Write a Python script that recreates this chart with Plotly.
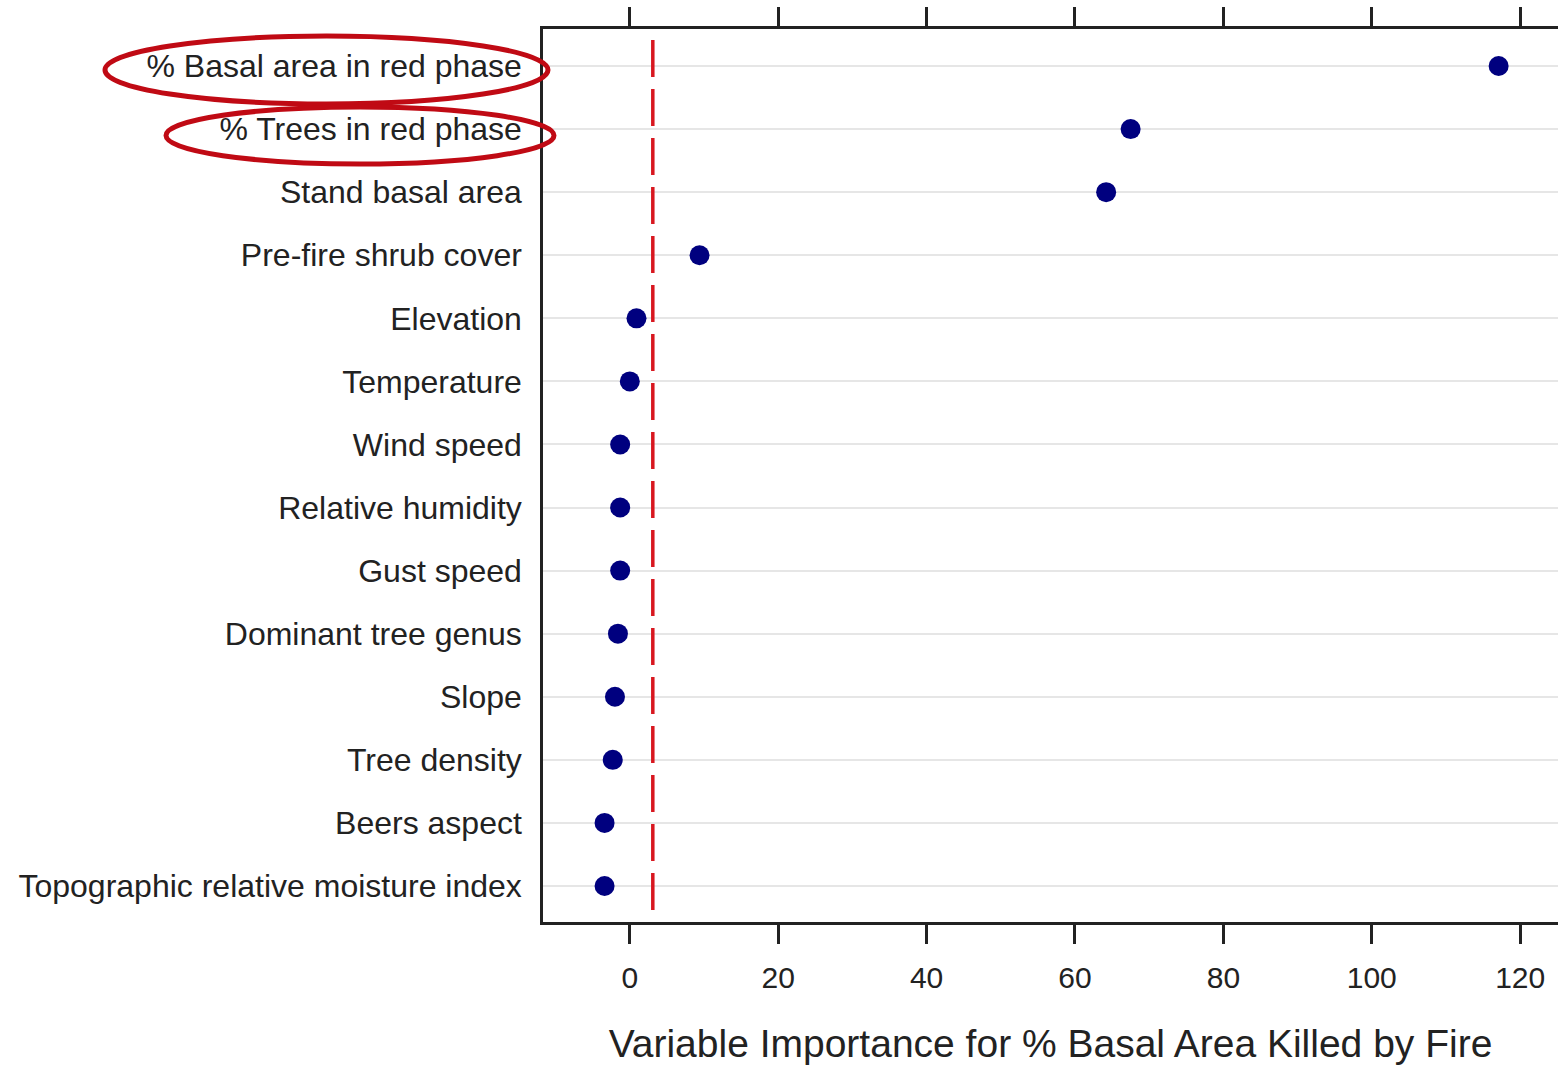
import plotly.graph_objects as go

variables = [
    "% Basal area in red phase",
    "% Trees in red phase",
    "Stand basal area",
    "Pre-fire shrub cover",
    "Elevation",
    "Temperature",
    "Wind speed",
    "Relative humidity",
    "Gust speed",
    "Dominant tree genus",
    "Slope",
    "Tree density",
    "Beers aspect",
    "Topographic relative moisture index",
]
importance = [117.1, 67.5, 64.2, 9.4, 0.9, 0.0, -1.3, -1.3, -1.3, -1.6, -2.0, -2.3, -3.4, -3.4]
threshold = 3.1
x_ticks = [0, 20, 40, 60, 80, 100, 120]
x_title = "Variable Importance for % Basal Area Killed by Fire"
highlighted = ["% Basal area in red phase", "% Trees in red phase"]

W, H = 1560, 1067
L, R, T, B = 543, 2, 29, 145
pw = W - L - R
ph = H - T - B

FONT = "Liberation Sans, Arial, sans-serif"
TXT = "#222222"

fig = go.Figure()
fig.add_trace(go.Scatter(
    x=importance, y=variables, mode="markers",
    marker=dict(color="#00007f", size=20, line=dict(color="#00007f", width=0)),
    showlegend=False, hoverinfo="x+y",
))

# dashed reference line
fig.add_shape(type="line", xref="x", yref="y domain",
              x0=threshold, x1=threshold, y0=(H - B - 40) / ph, y1=0,
              line=dict(color="#d8171f", width=3.5, dash="37px,12px"))

# red ellipses around highlighted labels (pixel boxes -> paper coords)
ellipse_px = [(105, 36, 548, 104), (166, 107, 554, 164)]
for (x0, y0, x1, y1) in ellipse_px:
    fig.add_shape(type="circle", xref="paper", yref="paper",
                  x0=(x0 - L) / pw, x1=(x1 - L) / pw,
                  y0=(H - B - y1) / ph, y1=(H - B - y0) / ph,
                  line=dict(color="#c00a14", width=5), layer="above")

n = len(variables)
fig.update_layout(
    width=W, height=H,
    margin=dict(l=L, r=R, t=T, b=B, pad=0),
    paper_bgcolor="white", plot_bgcolor="white",
    font=dict(family=FONT, color=TXT),
    xaxis=dict(
        range=[-11.7, 125.1], tickvals=x_ticks, ticktext=[str(v) for v in x_ticks],
        showgrid=False, zeroline=False,
        showline=True, linecolor="#222", linewidth=2.5, mirror="ticks",
        ticks="outside", ticklen=19, tickwidth=2.5, tickcolor="#222",
        tickfont=dict(size=30, color=TXT, family=FONT),
        ticklabelstandoff=8,
        title=dict(text=x_title, font=dict(size=39, color=TXT, family=FONT), standoff=37),
    ),
    yaxis=dict(
        categoryorder="array", categoryarray=variables,
        range=[n - 1 + 0.571, -0.587],
        showgrid=True, gridcolor="#e6e6e6", gridwidth=2,
        zeroline=False, showline=True, linecolor="#222", linewidth=2.5, mirror=False,
        ticks="", ticklabelstandoff=12,
        tickfont=dict(size=32, color=TXT, family=FONT),
    ),
)

fig.write_html("out.html")
